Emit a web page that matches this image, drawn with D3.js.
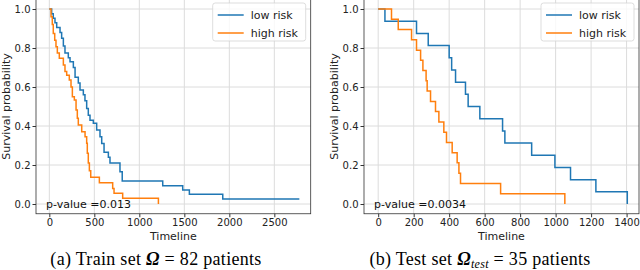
<!DOCTYPE html>
<html>
<head>
<meta charset="utf-8">
<script src="https://cdn.jsdelivr.net/npm/d3@7"></script>
<style>
  body { margin: 0; background: #fff; }
  text { font-family: "DejaVu Sans", sans-serif; }
</style>
</head>
<body>
<div id="chart"></div>
<script>
/* step data: [time, survival] */
const trainLow = [[0,1.0],[26,0.976],[44,0.952],[63,0.93],[82,0.905],[119,0.88],[137,0.85],[156,0.81],[174,0.775],[211,0.75],[230,0.73],[267,0.70],[286,0.65],[322,0.62],[341,0.585],[378,0.56],[396,0.53],[415,0.49],[433,0.455],[452,0.43],[489,0.414],[526,0.38],[563,0.345],[582,0.31],[608,0.265],[656,0.24],[674,0.21],[785,0.165],[810,0.118],[1260,0.094],[1482,0.072],[1556,0.05],[1927,0.026]];
const trainLowEnd = 2778;
const trainHigh = [[0,1.0],[19,0.96],[33,0.92],[44,0.875],[60,0.84],[74,0.807],[89,0.775],[111,0.747],[156,0.713],[174,0.68],[193,0.66],[222,0.636],[241,0.60],[256,0.55],[278,0.533],[297,0.482],[311,0.44],[322,0.405],[360,0.371],[397,0.345],[415,0.311],[422,0.26],[433,0.21],[445,0.17],[460,0.137],[556,0.109],[704,0.08],[719,0.055],[815,0.029],[1212,0.0]];
const trainHighEnd = 1212;

const testLow = [[0,1],[38,0.9375],[216,0.875],[282,0.8125],[400,0.75],[414,0.6875],[436,0.625],[492,0.5625],[507,0.5],[573,0.4375],[701,0.375],[714,0.3125],[865,0.25],[996,0.1875],[1084,0.125],[1227,0.0625],[1404,0]];
const testLowEnd = 1404;
const testHigh = [[0,1],[75,0.947],[113,0.895],[188,0.842],[216,0.789],[239,0.737],[252,0.684],[270,0.632],[276,0.579],[295,0.526],[323,0.474],[342,0.421],[370,0.368],[385,0.316],[417,0.263],[445,0.211],[455,0.158],[464,0.105],[690,0.053],[1052,0]];
const testHighEnd = 1052;

const yTicks = [0, 0.2, 0.4, 0.6, 0.8, 1.0];
const trainTicks = [0, 500, 1000, 1500, 2000, 2500];
const testTicks = [0, 200, 400, 600, 800, 1000, 1200, 1400];
const seriesNames = ["low risk", "high risk"];
const pTrain = "p-value =0.013";
const pTest = "p-value =0.0034";

const blue = "#1f77b4", orange = "#ff7f0e";

const svg = d3.select("#chart").append("svg")
    .attr("width", 640)
    .attr("height", 270);

const y = d3.scaleLinear().domain([-0.05, 1.05]).range([213.75, -0.75]);

function drawPanel(opts) {
    const x = d3.scaleLinear().domain(opts.domain).range([opts.left, opts.right]);
    const g = svg.append("g");
    const top = y(1.05), bottom = y(-0.05);

    /* grid */
    g.selectAll(".vgrid").data(opts.ticks).enter().append("line")
        .attr("x1", d => x(d)).attr("x2", d => x(d))
        .attr("y1", top).attr("y2", bottom)
        .attr("stroke", "#dcdcdc").attr("stroke-width", 1);
    g.selectAll(".hgrid").data(yTicks).enter().append("line")
        .attr("x1", opts.left).attr("x2", opts.right)
        .attr("y1", d => y(d)).attr("y2", d => y(d))
        .attr("stroke", "#dcdcdc").attr("stroke-width", 1);

    /* curves */
    const line = d3.line()
        .x(d => x(d[0]))
        .y(d => y(d[1]))
        .curve(d3.curveStepAfter);
    [[opts.low, opts.lowEnd, blue], [opts.high, opts.highEnd, orange]].forEach(function (s) {
        const pts = s[0].concat([[s[1], s[0][s[0].length - 1][1]]]);
        g.append("path")
            .attr("d", line(pts))
            .attr("fill", "none")
            .attr("stroke", s[2])
            .attr("stroke-width", 1.5);
    });

    /* axes */
    const xAxis = d3.axisBottom(x).tickValues(opts.ticks).tickSize(3.5).tickPadding(2)
        .tickFormat(d3.format("d"));
    const yAxis = d3.axisLeft(y).tickValues(yTicks).tickSize(3.5).tickPadding(2)
        .tickFormat(d3.format(".1f"));
    const xg = g.append("g").attr("transform", "translate(0," + bottom + ")").call(xAxis);
    const yg = g.append("g").attr("transform", "translate(" + opts.left + ",0)").call(yAxis);
    [xg, yg].forEach(function (a) {
        a.select(".domain").remove();
        a.selectAll("line").attr("stroke", "#333");
        a.selectAll("text").attr("fill", "#222").style("font-size", "10px")
            .style("font-family", "DejaVu Sans");
    });

    g.append("rect")
        .attr("x", opts.left).attr("y", top)
        .attr("width", opts.right - opts.left).attr("height", bottom - top)
        .attr("fill", "none").attr("stroke", "#333").attr("stroke-width", 0.8);

    /* legend */
    const lg = g.append("g").attr("transform", "translate(" + (opts.right - 98) + ",3)");
    lg.append("rect")
        .attr("width", 93).attr("height", 38).attr("rx", 2.5)
        .attr("fill", "#fff").attr("fill-opacity", 0.8)
        .attr("stroke", "#d4d4d4").attr("stroke-width", 0.8);
    seriesNames.forEach(function (name, i) {
        const yy = 12 + i * 18;
        lg.append("line")
            .attr("x1", 5).attr("x2", 31).attr("y1", yy).attr("y2", yy)
            .attr("stroke", i === 0 ? blue : orange).attr("stroke-width", 1.5);
        lg.append("text")
            .attr("x", 38).attr("y", yy + 4)
            .style("font-size", "11px").attr("fill", "#222")
            .text(name);
    });

    /* p-value */
    g.append("text")
        .attr("x", opts.left + 10).attr("y", 208)
        .style("font-size", "11px").attr("fill", "#111")
        .text(opts.pval);

    /* labels */
    g.append("text")
        .attr("transform", "translate(" + (opts.left - 26) + "," + ((top + bottom) / 2) + ") rotate(-90)")
        .attr("text-anchor", "middle")
        .style("font-size", "11px").attr("fill", "#222")
        .text("Survival probability");
    g.append("text")
        .attr("x", (opts.left + opts.right) / 2).attr("y", 240)
        .attr("text-anchor", "middle")
        .style("font-size", "11px").attr("fill", "#222")
        .text("Timeline");
}

drawPanel({
    left: 36, right: 310.7, domain: [-148, 2904], ticks: trainTicks,
    low: trainLow, lowEnd: trainLowEnd, high: trainHigh, highEnd: trainHighEnd, pval: pTrain
});
drawPanel({
    left: 364, right: 639, domain: [-80, 1470], ticks: testTicks,
    low: testLow, lowEnd: testLowEnd, high: testHigh, highEnd: testHighEnd, pval: pTest
});

/* captions */
const capFont = "Liberation Serif, DejaVu Serif, serif";
const capA = svg.append("text").attr("x", 156).attr("y", 265).attr("text-anchor", "middle")
    .style("font-family", capFont).style("font-size", "18px").style("letter-spacing", "0.3px");
capA.append("tspan").text("(a) Train set ");
capA.append("tspan").style("font-style", "italic").style("font-weight", "bold").text("Ω");
capA.append("tspan").text(" = 82 patients");

const capB = svg.append("text").attr("x", 480).attr("y", 265).attr("text-anchor", "middle")
    .style("font-family", capFont).style("font-size", "18px").style("letter-spacing", "0.3px");
capB.append("tspan").text("(b) Test set ");
capB.append("tspan").style("font-style", "italic").style("font-weight", "bold").text("Ω");
capB.append("tspan").style("font-style", "italic").style("font-size", "12px").attr("dy", 3).text("test");
capB.append("tspan").attr("dy", -3).text(" = 35 patients");
</script>
</body>
</html>
